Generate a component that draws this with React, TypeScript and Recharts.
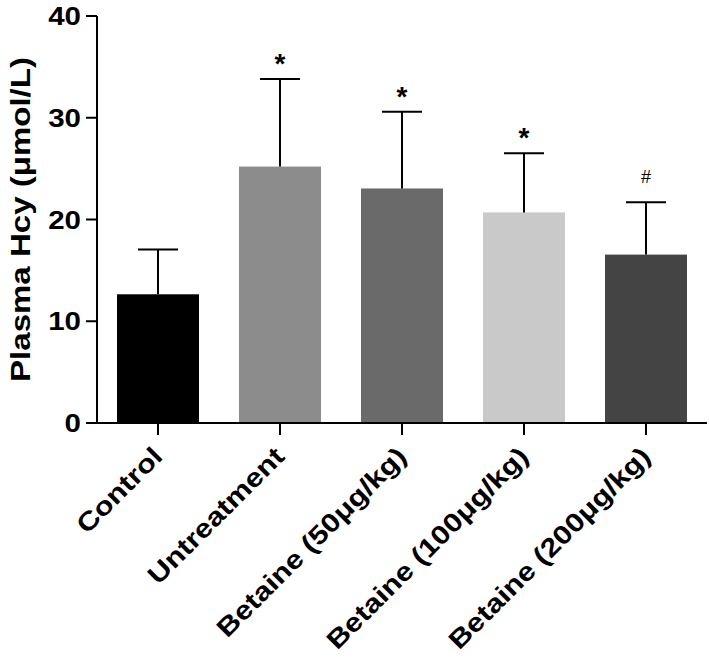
import { Bar, BarChart, Cell, XAxis, YAxis } from "recharts";

const groups = [
  "Control",
  "Untreatment",
  "Betaine (50μg/kg)",
  "Betaine (100μg/kg)",
  "Betaine (200μg/kg)",
];
const means = [12.65, 25.2, 23.05, 20.7, 16.55];
const errors = [4.4, 8.6, 7.55, 5.8, 5.15];
const marks = ["", "*", "*", "*", "#"];
const yTicks = [0, 10, 20, 30, 40];

const fills = ["#000000", "#8c8c8c", "#6a6a6a", "#c9c9c9", "#444444"];
const FONT = '"Liberation Sans", Arial, Helvetica, sans-serif';

const data = groups.map((name, i) => ({
  name,
  mean: means[i],
  sd: errors[i],
  mark: marks[i],
}));

// bar + upward-only SD whisker + significance mark
function BarWithError(props: any) {
  const { x, y, width, height, payload, index } = props;
  const cx = x + width / 2;
  const top = y - payload.sd * (height / payload.mean);
  return (
    <g>
      <rect x={x} y={y} width={width} height={height} fill={fills[index]} />
      <line x1={cx} x2={cx} y1={y} y2={top} stroke="#000" strokeWidth={2} />
      <line x1={cx - 20} x2={cx + 20} y1={top} y2={top} stroke="#000" strokeWidth={2} />
      {payload.mark === "*" && (
        <text x={cx} y={top - 6} textAnchor="middle" fontFamily={FONT} fontWeight="bold" fontSize={28} fill="#000">
          *
        </text>
      )}
      {payload.mark === "#" && (
        <text x={cx} y={top - 19} textAnchor="middle" fontFamily={FONT} fontSize={18} fill="#000">
          #
        </text>
      )}
    </g>
  );
}

function YTick({ x, y, payload }: any) {
  return (
    <g transform={`translate(${x},${y})`}>
      <text
        transform="scale(1.18,1)"
        textAnchor="end"
        dy="0.36em"
        fontFamily={FONT}
        fontWeight="bold"
        fontSize={25}
        fill="#000"
      >
        {payload.value}
      </text>
    </g>
  );
}

function XTick({ x, y, payload }: any) {
  return (
    <g transform={`translate(${x + 6},${y + 21}) rotate(-45)`}>
      <text
        transform="scale(1.18,1)"
        textAnchor="end"
        fontFamily={FONT}
        fontWeight="bold"
        fontSize={26}
        fill="#000"
      >
        {payload.value}
      </text>
    </g>
  );
}

function YLabel({ viewBox }: any) {
  const cx = viewBox.x + 20;
  const cy = viewBox.y + viewBox.height / 2;
  return (
    <g transform={`translate(${cx},${cy}) rotate(-90)`}>
      <text
        transform="scale(1.18,1)"
        textAnchor="middle"
        dy="0.36em"
        fontFamily={FONT}
        fontWeight="bold"
        fontSize={28}
        fill="#000"
      >
        Plasma Hcy (μmol/L)
      </text>
    </g>
  );
}

export default function App() {
  return (
    <div style={{ position: "absolute", left: 0, top: 0, background: "#fff" }}>
      <BarChart
        width={709}
        height={660}
        data={data}
        margin={{ top: 16, right: 2, bottom: 0, left: 0 }}
      >
        <XAxis
          dataKey="name"
          interval={0}
          axisLine={{ stroke: "#000", strokeWidth: 2 }}
          tickLine={{ stroke: "#000", strokeWidth: 2 }}
          tickSize={12}
          tick={<XTick />}
          height={237}
        />
        <YAxis
          domain={[0, 40]}
          ticks={yTicks}
          width={97}
          axisLine={{ stroke: "#000", strokeWidth: 2 }}
          tickLine={{ stroke: "#000", strokeWidth: 2 }}
          tickSize={11}
          tickMargin={5}
          tick={<YTick />}
          label={<YLabel />}
        />
        <Bar dataKey="mean" barSize={82} shape={<BarWithError />} isAnimationActive={false}>
          {data.map((d, i) => (
            <Cell key={d.name} fill={fills[i]} />
          ))}
        </Bar>
      </BarChart>
    </div>
  );
}
